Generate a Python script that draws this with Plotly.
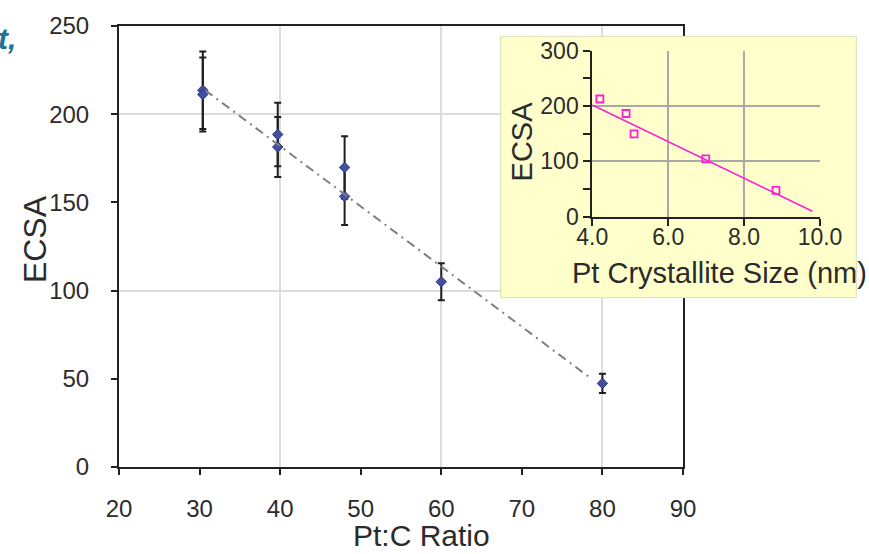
import base64
import plotly.graph_objects as go

# ---------------- data ----------------
ratio_x = [30.4, 30.4, 39.7, 39.7, 48, 48, 60, 80]
ecsa_y = [213.6, 211.2, 188.5, 181.4, 169.8, 153.4, 105, 47.4]
ecsa_err = [22, 21, 18, 17, 17.7, 16.2, 10.5, 5.5]
trend_x = [30.7, 78.5]
trend_y = [213.6, 50.5]

size_x = [4.2, 4.89, 5.1, 6.99, 8.84]
size_y = [212.7, 186.5, 149.7, 104.5, 47.4]
size_trend_x = [4.0, 9.8]
size_trend_y = [202, 10]

main_xticks = [20, 30, 40, 50, 60, 70, 80, 90]
main_yticks = [0, 50, 100, 150, 200, 250]
inset_xticks = [4.0, 6.0, 8.0, 10.0]
inset_yticks = [0, 100, 200, 300]

# ---------------- layout helpers ----------------
W, H = 869, 554
ML, MR, MT, MB = 119, 49, 20, 87
PW, PH = W - ML - MR, H - MT - MB


def px(xp):
    return (xp - ML) / PW


def py(yp):
    return (H - MB - yp) / PH


REG = "Liberation Sans, Arial, sans-serif"
TXT = "#2b2b2b"
AX = "#222222"

fig = go.Figure()

fig.add_trace(go.Scatter(
    x=ratio_x, y=ecsa_y, mode="markers",
    marker=dict(symbol="diamond", size=8, color="#44509F",
                line=dict(color="#2A3480", width=1)),
    error_y=dict(type="data", array=ecsa_err, visible=True,
                 color="#1e1e1e", thickness=2, width=3.5),
    xaxis="x", yaxis="y", showlegend=False, hoverinfo="skip"))

fig.add_trace(go.Scatter(
    x=trend_x, y=trend_y, mode="lines",
    line=dict(color="#7f7f7f", width=2, dash="9px,5px,2px,5px"),
    xaxis="x", yaxis="y", showlegend=False, hoverinfo="skip"))

# grid overlay axes (gridlines every 20 / 100)
fig.add_trace(go.Scatter(x=[None], y=[None], xaxis="x3", yaxis="y3",
                         showlegend=False, hoverinfo="skip"))

fig.add_trace(go.Scatter(
    x=size_trend_x, y=size_trend_y, mode="lines",
    line=dict(color="#FF1FD8", width=1.6),
    xaxis="x2", yaxis="y2", showlegend=False, hoverinfo="skip"))

fig.add_trace(go.Scatter(
    x=size_x, y=size_y, mode="markers",
    marker=dict(symbol="square-open", size=7, color="#FF1FD8",
                line=dict(width=1.8)),
    xaxis="x2", yaxis="y2", showlegend=False, hoverinfo="skip"))

main_dom_x = [0, px(683)]
tickfont_main = dict(family=REG, size=24, color=TXT)
tickfont_inset = dict(family=REG, size=23, color=TXT)

fig.update_layout(
    width=W, height=H,
    margin=dict(l=ML, r=MR, t=MT, b=MB, pad=0),
    paper_bgcolor="white", plot_bgcolor="rgba(0,0,0,0)",
    showlegend=False,
    xaxis=dict(domain=main_dom_x, anchor="y", range=[20, 90],
               tickvals=main_xticks, ticktext=[str(v) for v in main_xticks],
               ticks="outside", ticklen=6, tickwidth=2, tickcolor=AX,
               showline=True, linecolor=AX, linewidth=2, mirror=True,
               showgrid=False, zeroline=False, ticklabelstandoff=13,
               tickfont=tickfont_main),
    yaxis=dict(domain=[0, 1], anchor="x", range=[0, 250],
               tickvals=main_yticks, ticktext=[str(v) for v in main_yticks],
               ticks="outside", ticklen=6, tickwidth=2, tickcolor=AX,
               showline=True, linecolor=AX, linewidth=2, mirror=True,
               showgrid=False, zeroline=False, ticklabelstandoff=17,
               tickfont=tickfont_main),
    xaxis3=dict(overlaying="x", anchor="y3", range=[20, 90], tick0=0, dtick=20,
                showgrid=True, gridcolor="#DCDCDC", gridwidth=1.5,
                showticklabels=False, ticks="", showline=False, zeroline=False),
    yaxis3=dict(overlaying="y", anchor="x3", range=[0, 250], tick0=0, dtick=100,
                showgrid=True, gridcolor="#DCDCDC", gridwidth=1.5,
                showticklabels=False, ticks="", showline=False, zeroline=False),
    xaxis2=dict(domain=[px(592.3), px(820)], anchor="y2", range=[4, 10],
                tickvals=inset_xticks, ticktext=["%.1f" % v for v in inset_xticks],
                ticks="outside", ticklen=7, tickwidth=2, tickcolor=AX,
                showline=True, linecolor=AX, linewidth=2,
                showgrid=True, gridcolor="#A9A9A9", gridwidth=1.5, zeroline=False,
                ticklabelstandoff=-8, tickfont=tickfont_inset),
    yaxis2=dict(domain=[py(213.3), py(45)], anchor="x2", range=[0, 300],
                tickvals=inset_yticks, ticktext=[str(v) for v in inset_yticks],
                ticks="outside", ticklen=7, tickwidth=2, tickcolor=AX,
                minor=dict(dtick=50, tick0=0, ticks="outside", ticklen=7,
                           tickwidth=2, tickcolor=AX, showgrid=False),
                showline=True, linecolor=AX, linewidth=2,
                showgrid=True, gridcolor="#A9A9A9", gridwidth=1.5, zeroline=False,
                ticklabelstandoff=0, tickfont=tickfont_inset),
)

# yellow inset panel, placed in the inset subplot's own layer so it covers the main plot
svg = ('<svg xmlns="http://www.w3.org/2000/svg" width="357" height="266" '
       'viewBox="0 0 357 266" preserveAspectRatio="none">'
       '<rect x="0.5" y="0.5" width="356" height="265" fill="#FFFFCC" '
       'stroke="#E2E2BE" stroke-width="1.5"/></svg>')
src = "data:image/svg+xml;base64," + base64.b64encode(svg.encode()).decode()
ix0, ix1 = 592.3, 820
iy0, iy1 = 213.3, 45
bx0 = (500 - ix0) / (ix1 - ix0)
bx1 = (857 - ix0) / (ix1 - ix0)
by0 = (iy0 - 296) / (iy0 - iy1)
by1 = (iy0 - 30) / (iy0 - iy1)
fig.add_layout_image(source=src, xref="x2 domain", yref="y2 domain",
                     x=bx0, y=by1, sizex=bx1 - bx0, sizey=by1 - by0,
                     xanchor="left", yanchor="top", sizing="stretch",
                     layer="below")

anns = [
    dict(text="ECSA", x=px(35), y=py(236), textangle=-90,
         font=dict(family=REG, size=32, color=TXT)),
    dict(text="Pt:C Ratio", x=px(421), y=py(536),
         font=dict(family=REG, size=30, color=TXT)),
    dict(text="ECSA", x=px(522), y=py(137), textangle=-90,
         font=dict(family=REG, size=29, color=TXT)),
    dict(text="Pt Crystallite Size (nm)", x=px(719), y=py(270),
         font=dict(family=REG, size=29, color=TXT)),
    dict(text="<b><i>t,</i></b>", x=px(18), y=py(33), xanchor="right",
         font=dict(family=REG, size=30, color="#1D7494")),
]
for a in anns:
    a.setdefault("xanchor", "center")
    fig.add_annotation(xref="paper", yref="paper", yanchor="middle",
                       showarrow=False, **a)

fig.write_html("out.html")
